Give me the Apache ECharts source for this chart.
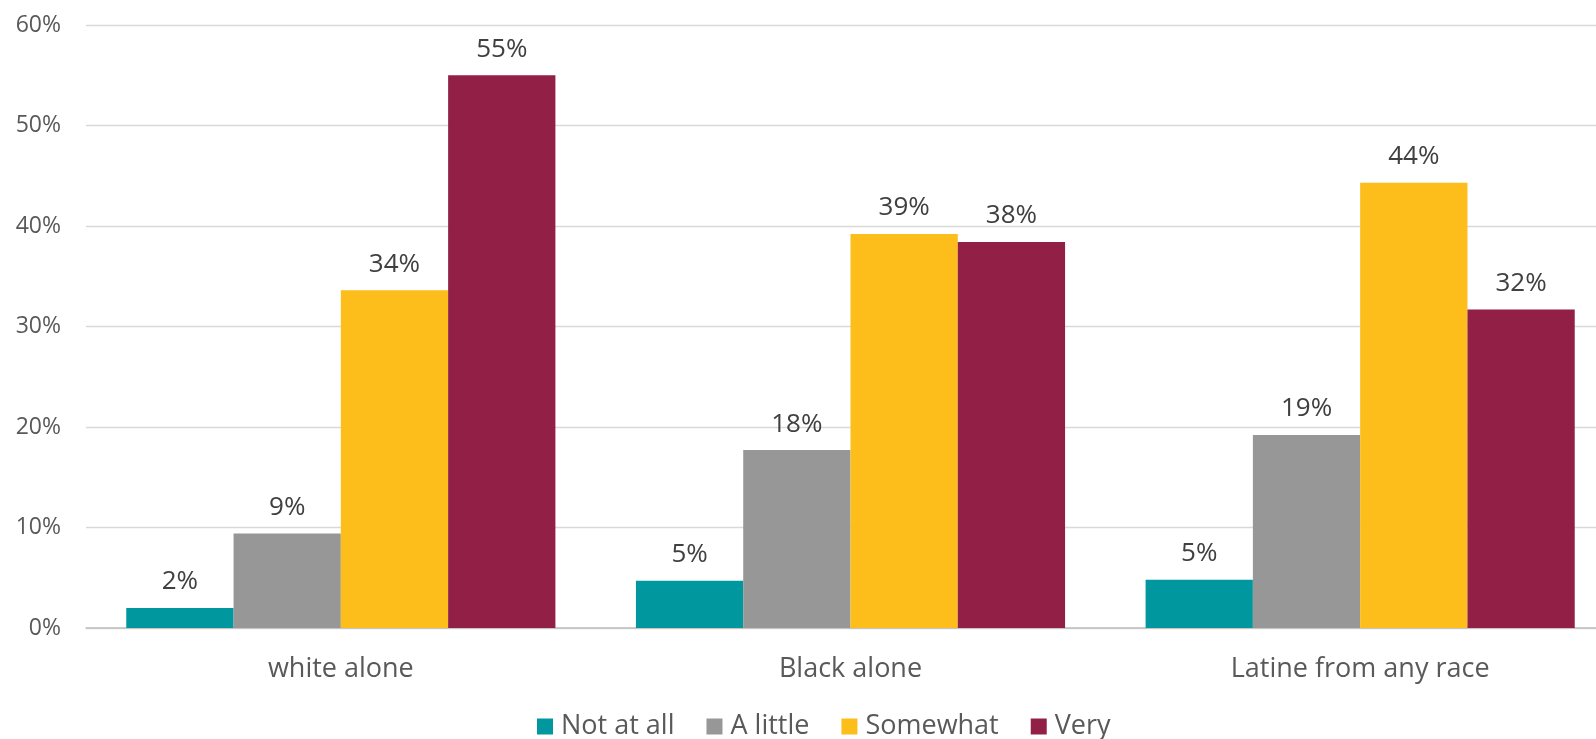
<!DOCTYPE html>
<html>
<head>
<meta charset="utf-8">
<script src="https://cdn.jsdelivr.net/npm/echarts@6/dist/echarts.min.js"></script>
<style>
html,body{margin:0;padding:0;background:#fff;overflow:hidden;}
#c{width:1596px;height:739px;}
</style>
</head>
<body>
<div id="c"></div>
<script>
var categories = ['white alone', 'Black alone', 'Latine from any race'];
var seriesNames = ['Not at all', 'A little', 'Somewhat', 'Very'];
var notAtAll = [2.0, 4.7, 4.8];
var aLittle = [9.4, 17.7, 19.2];
var somewhat = [33.6, 39.2, 44.3];
var very = [55.0, 38.4, 31.7];
var colors = ['#00979F', '#979797', '#FDBD1B', '#922046'];

var FONT = '"Open Sans", "Noto Sans", sans-serif';
var values = [notAtAll, aLittle, somewhat, very];

var chart = echarts.init(document.getElementById('c'));
chart.setOption({
  animation: false,
  color: colors,
  textStyle: { fontFamily: FONT },
  grid: { left: 86, width: 1529, top: 25, bottom: 111, containLabel: false, outerBoundsMode: 'none' },
  legend: {
    top: 708,
    left: 532,
    itemWidth: 16,
    itemHeight: 16,
    itemGap: 32,
    icon: 'rect',
    textStyle: { fontSize: 27, color: '#595959', fontFamily: FONT, padding: [0, 0, 0, 3] },
    data: seriesNames
  },
  xAxis: {
    type: 'category',
    data: categories,
    axisLine: { lineStyle: { color: '#bfbfbf', width: 1.5 } },
    axisTick: { show: false },
    axisLabel: { fontSize: 27, color: '#595959', margin: 28, fontFamily: FONT }
  },
  yAxis: {
    type: 'value',
    min: 0,
    max: 60,
    interval: 10,
    axisLine: { show: false },
    axisTick: { show: false },
    splitLine: { lineStyle: { color: '#d9d9d9', width: 1.3 } },
    axisLabel: { formatter: '{value}%', fontSize: 23, color: '#595959', margin: 25, fontFamily: FONT }
  },
  series: seriesNames.map(function (name, i) {
    return {
      name: name,
      type: 'bar',
      data: values[i],
      barGap: '0%',
      barCategoryGap: '15.8%',
      itemStyle: { color: colors[i] },
      label: {
        show: true,
        position: 'top',
        distance: 13,
        fontSize: 26,
        color: '#404040',
        fontFamily: FONT,
        formatter: function (p) { return Math.round(p.value) + '%'; }
      }
    };
  })
});
</script>
</body>
</html>
